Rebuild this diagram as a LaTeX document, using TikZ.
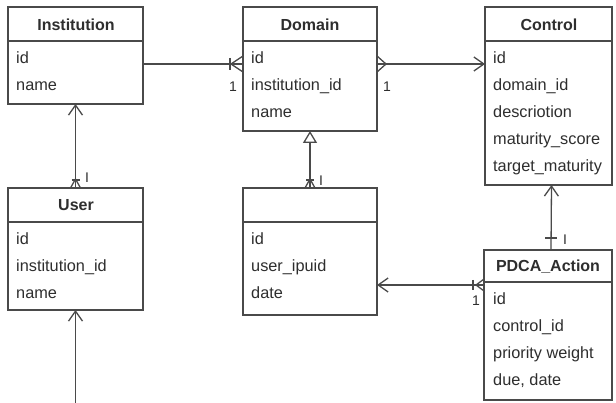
\documentclass[tikz,border=0pt]{standalone}
\usepackage{fontspec}
\setmainfont{Liberation Sans}
\usetikzlibrary{arrows.meta}
\definecolor{lc}{HTML}{4A4A4A}
\definecolor{tc}{HTML}{2E2E2E}
\tikzset{
  ebox/.style={draw=lc, line width=1.3pt, inner sep=0pt, outer sep=0pt, anchor=north west},
  ttl/.style={font=\fontsize{16}{19}\selectfont\bfseries, text=tc, inner sep=0pt},
  fld/.style={font=\fontsize{16.3}{19}\selectfont, text=tc, anchor=west, inner sep=0pt, text height=11.5pt, text depth=3pt},
  conn/.style={draw=lc, line width=1.3pt},
  lbl/.style={font=\fontsize{14}{16}\selectfont, text=tc, inner sep=0pt},
  openarr/.style={-{Straight Barb[length=10pt,width=14pt,line width=1.3pt]}},
  triarr/.style={-{Triangle[open,length=12pt,width=14pt,line width=1.3pt]}}
}
\begin{document}
\begin{tikzpicture}[x=1pt,y=-1pt]
\useasboundingbox (0,0) rectangle (616,403);
\fill[white] (0,0) rectangle (616,403);

% boxes
\node[ebox, minimum width=135pt, minimum height=97pt] (inst) at (8,7) {};
\node[ebox, minimum width=134pt, minimum height=124pt] (dom) at (243,7) {};
\node[ebox, minimum width=127pt, minimum height=178pt] (ctrl) at (485,7) {};
\node[ebox, minimum width=135pt, minimum height=122pt] (user) at (8,188) {};
\node[ebox, minimum width=134pt, minimum height=127pt] (uact) at (243,188) {};
\node[ebox, minimum width=128pt, minimum height=150pt] (pdca) at (484,250) {};

% header dividers
\draw[conn] ([yshift=-34pt]inst.north west) -- ([yshift=-34pt]inst.north east);
\draw[conn] ([yshift=-34pt]dom.north west) -- ([yshift=-34pt]dom.north east);
\draw[conn] ([yshift=-34pt]ctrl.north west) -- ([yshift=-34pt]ctrl.north east);
\draw[conn] ([yshift=-34pt]user.north west) -- ([yshift=-34pt]user.north east);
\draw[conn] ([yshift=-34pt]uact.north west) -- ([yshift=-34pt]uact.north east);
\draw[conn] ([yshift=-32pt]pdca.north west) -- ([yshift=-32pt]pdca.north east);

% titles
\node[ttl] (tinst) at (76,25) {Institution};
\node[ttl] (tdom) at (310,25) {Domain};
\node[ttl] (tctrl) at (549,25) {Control};
\node[ttl] (tuser) at (76,205) {User};
\node[ttl] (tpdca) at (548,267) {PDCA\_Action};

% fields
\node[fld] (f1) at (16,59) {id};
\node[fld] (f2) at (16,86) {name};
\node[fld] (f3) at (251,59) {id};
\node[fld] (f4) at (251,86) {institution\_id};
\node[fld] (f5) at (251,113) {name};
\node[fld] (f6) at (493,59) {id};
\node[fld] (f7) at (493,86) {domain\_id};
\node[fld] (f8) at (493,113) {descriotion};
\node[fld] (f9) at (493,140) {maturity\_score};
\node[fld] (f10) at (493,167) {target\_maturity};
\node[fld] (f11) at (16,240) {id};
\node[fld] (f12) at (16,267) {institution\_id};
\node[fld] (f13) at (16,294) {name};
\node[fld] (f14) at (251,240) {id};
\node[fld] (f15) at (251,267) {user\_ipuid};
\node[fld] (f16) at (251,294) {date};
\node[fld] (f17) at (493,300) {id};
\node[fld] (f18) at (493,327) {control\_id};
\node[fld] (f19) at (493,354) {priority weight};
\node[fld] (f20) at (493,381) {due, date};

% connector end points
\coordinate (a1) at ([yshift=-57pt]inst.north east);
\coordinate (b1) at ([yshift=-57pt]dom.north west);
\coordinate (a2) at ([yshift=-57pt]dom.north east);
\coordinate (b2) at ([yshift=-57pt]ctrl.north west);
\coordinate (a5) at ([xshift=3pt]ctrl.south);
\coordinate (b5) at ([xshift=3pt]pdca.north);
\coordinate (a6) at ([yshift=-35pt]pdca.north west);
\coordinate (b6) at (uact.east |- a6);
\coordinate (a7) at (75.5,403);

% 1: Institution -- Domain
\draw[conn] (a1) -- (b1);
\draw[conn] (b1) ++(0,-8) -- ++(-12,8) -- ++(12,8);
\draw[conn] (b1) ++(-13,-6) -- ++(0,12);
\node[lbl] (l1) at (233,87) {1};

% 2: Domain -> Control
\draw[conn, openarr] (a2) -- (b2);
\draw[conn] (a2) ++(0,-8) -- ++(9,8) -- ++(-9,8);
\node[lbl] (l2) at (387,87) {1};

% 3: User -> Institution
\draw[conn, openarr] (user.north) -- (inst.south);
\draw[conn] (user.north) ++(-5,0) -- ++(5,-9) -- ++(5,9);
\draw[conn] (user.north) ++(-4,-8) -- ++(8,0);
\node[lbl] (l3) at (87,178) {I};

% 4: unnamed -> Domain
\draw[conn, triarr] (uact.north) -- (dom.south);
\draw[conn] (uact.north) ++(-5,0) -- ++(5,-9) -- ++(5,9);
\draw[conn] (uact.north) ++(-4,-8) -- ++(8,0);
\node[lbl] (l4) at (321,181) {I};

% 5: PDCA -> Control
\draw[conn, openarr] (b5) -- (a5);
\draw[conn] (b5) ++(-6,-12) -- ++(12,0);
\node[lbl] (l5) at (565,240) {I};

% 6: PDCA -> unnamed
\draw[conn, openarr] (a6) -- (b6);
\draw[conn] (a6) ++(0,-6) -- ++(-8,6) -- ++(8,6);
\draw[conn] (a6) ++(-11,-5) -- ++(0,10);
\node[lbl] (l6) at (476,301) {1};

% 7: incoming to User
\draw[conn, openarr] (a7) -- (user.south);
\end{tikzpicture}
\end{document}
